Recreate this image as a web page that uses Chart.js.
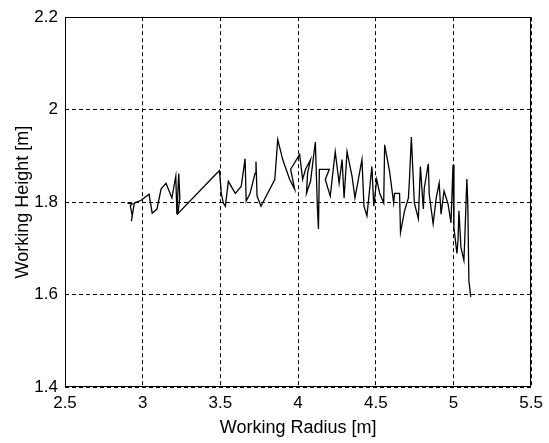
<!DOCTYPE html>
<html>
<head>
<meta charset="utf-8">
<script src="https://cdn.jsdelivr.net/npm/chart.js@4"></script>
<style>
  html, body { margin:0; padding:0; background:#fff; }
</style>
</head>
<body>
<canvas id="myChart1" width="549" height="443"></canvas>
<script>
// working radius [m] / working height [m]
var radius=[2.901,2.933,2.920,2.933,2.927,2.946,2.990,3.041,3.061,3.092,
  3.118,3.150,3.188,3.213,3.220,3.232,3.239,3.226,3.475,3.494,
  3.506,3.519,3.532,3.551,3.596,3.634,3.659,3.666,3.691,3.723,
  3.729,3.736,3.761,3.850,3.869,3.901,3.946,3.978,3.952,4.010,
  4.029,4.048,4.080,4.061,4.054,4.080,4.111,4.124,4.131,4.137,
  4.201,4.175,4.207,4.239,4.264,4.283,4.296,4.315,4.347,4.366,
  4.411,4.424,4.443,4.475,4.487,4.506,4.525,4.551,4.557,4.589,
  4.615,4.621,4.653,4.659,4.685,4.710,4.717,4.729,4.748,4.774,
  4.787,4.806,4.812,4.838,4.844,4.869,4.889,4.908,4.920,4.939,
  4.965,4.984,4.997,5.003,5.022,5.029,5.035,5.048,5.067,5.073,
  5.086,5.092,5.099,5.111];
var height=[1.798,1.796,1.792,1.770,1.759,1.798,1.804,1.817,1.776,1.785,
  1.828,1.841,1.809,1.856,1.774,1.862,1.809,1.775,1.862,1.868,
  1.819,1.798,1.791,1.845,1.819,1.834,1.894,1.802,1.819,1.862,
  1.888,1.813,1.791,1.849,1.935,1.892,1.849,1.828,1.871,1.903,
  1.849,1.871,1.892,1.862,1.819,1.845,1.930,1.791,1.742,1.871,
  1.871,1.849,1.813,1.909,1.841,1.892,1.809,1.909,1.856,1.809,
  1.892,1.791,1.770,1.877,1.791,1.849,1.819,1.798,1.924,1.866,
  1.798,1.819,1.819,1.734,1.781,1.809,1.851,1.941,1.798,1.764,
  1.877,1.785,1.830,1.883,1.817,1.753,1.809,1.841,1.774,1.824,
  1.796,1.755,1.881,1.744,1.689,1.717,1.781,1.702,1.674,1.723,
  1.850,1.798,1.631,1.595];

var xTicks=[2.5,3,3.5,4,4.5,5,5.5];
var yTicks=[1.4,1.6,1.8,2,2.2];

var points=radius.map(function(r,i){ return {x:r,y:height[i]}; });

// solid box round the plot area, like matlab
var boxPlugin={
  id:'box',
  afterDraw:function(chart){
    var a=chart.chartArea, c=chart.ctx;
    c.save();
    c.strokeStyle='#000';
    c.lineWidth=1;
    c.setLineDash([]);
    c.strokeRect(Math.round(a.left)+0.5,Math.round(a.top)+0.5,
      Math.round(a.right-a.left)-1,Math.round(a.bottom-a.top)-1);
    c.restore();
  }
};

var ctx=document.querySelector("#myChart1").getContext("2d");
var myChart=new Chart(ctx,{
    type:"scatter",
    data:{
        datasets:[{
          data:points,
          showLine:true,
          borderColor:'#000',
          borderWidth:1.3,
          pointRadius:0,
          tension:0,
        }],
    },
    options:{
        responsive:false,
        animation:false,
        layout:{
          padding:{ top:15, right:14, left:0, bottom:0 }
        },
        plugins:{
          legend:{ display:false },
          tooltip:{ enabled:false }
        },
        scales:{
          x:{
            type:'linear',
            min:2.5, max:5.5,
            afterBuildTicks:function(s){ s.ticks=xTicks.map(function(v){return {value:v};}); },
            afterFit:function(s){ s.height=56; },
            ticks:{
              color:'#000',
              padding:6,
              maxRotation:0,
              font:{ family:'"Liberation Sans", Arial, sans-serif', size:17 },
              callback:function(v){ return String(v); }
            },
            grid:{ color:'#000', lineWidth:1, drawTicks:false },
            border:{ display:false, dash:[4,3] },
            title:{
              display:true,
              text:'Working Radius [m]',
              color:'#000',
              padding:{ top:0, bottom:4 },
              font:{ family:'"Liberation Sans", Arial, sans-serif', size:18 }
            }
          },
          y:{
            type:'linear',
            min:1.4, max:2.2,
            afterBuildTicks:function(s){ s.ticks=yTicks.map(function(v){return {value:v};}); },
            afterFit:function(s){ s.width=65; },
            ticks:{
              color:'#000',
              padding:7,
              font:{ family:'"Liberation Sans", Arial, sans-serif', size:17 },
              callback:function(v){ return String(v); }
            },
            grid:{ color:'#000', lineWidth:1, drawTicks:false },
            border:{ display:false, dash:[4,3] },
            title:{
              display:true,
              text:'Working Height [m]',
              color:'#000',
              padding:{ top:12, bottom:0 },
              font:{ family:'"Liberation Sans", Arial, sans-serif', size:18 }
            }
          }
        }
      },
    plugins:[boxPlugin]
})
</script>
</body>
</html>
